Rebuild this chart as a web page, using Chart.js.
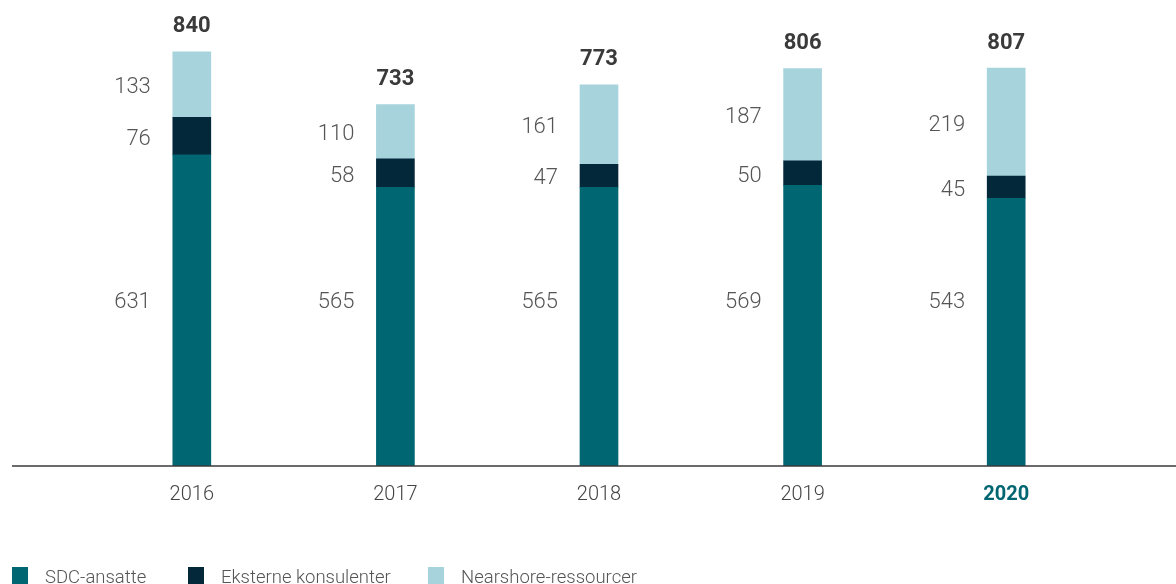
<!DOCTYPE html>
<html>
<head>
<meta charset="utf-8">
<script src="https://cdn.jsdelivr.net/npm/chart.js@4/dist/chart.umd.min.js"></script>
<style>
  html, body { margin: 0; padding: 0; background: #fff; }
  #wrap { position: relative; width: 1176px; height: 584px; }
</style>
</head>
<body>
<div id="wrap"><canvas id="chart"></canvas></div>
<script>
const years = ["2016", "2017", "2018", "2019", "2020"];
const sdcAnsatte = [631, 565, 565, 569, 543];
const eksterne = [76, 58, 47, 50, 45];
const nearshore = [133, 110, 161, 187, 219];
const totals = [840, 733, 773, 806, 807];
const seriesNames = ["SDC-ansatte", "Eksterne konsulenter", "Nearshore-ressourcer"];
const colors = ["#006672", "#022839", "#a7d3dc"];

const textFont = "Roboto, 'Liberation Sans', sans-serif";

const labelsPlugin = {
  id: "labelsPlugin",
  afterDraw(chart) {
    const ctx = chart.ctx;
    const x = chart.scales.x;
    const y = chart.scales.y;
    const base = y.getPixelForValue(0);
    ctx.save();

    // baseline
    ctx.strokeStyle = "#3a3a3a";
    ctx.lineWidth = 1.3;
    ctx.beginPath();
    ctx.moveTo(12, base);
    ctx.lineTo(1176, base);
    ctx.stroke();

    const sets = [sdcAnsatte, eksterne, nearshore];
    years.forEach((yr, i) => {
      const cx = x.getPixelForValue(i);
      const bar = chart.getDatasetMeta(0).data[i];
      const left = cx - bar.width / 2;

      // segment values
      ctx.font = "300 22px " + textFont;
      ctx.fillStyle = "#555";
      ctx.textAlign = "right";
      ctx.textBaseline = "middle";
      let acc = 0;
      sets.forEach((arr, k) => {
        const v = arr[i];
        let py;
        if (k === 0) py = y.getPixelForValue(337);
        else py = y.getPixelForValue(acc + v / 2);
        ctx.fillText(String(v), left - 22, py + 3);
        acc += v;
      });

      // total
      ctx.font = "bold 22px " + textFont;
      ctx.fillStyle = "#3a3a3a";
      ctx.textAlign = "center";
      ctx.fillText(String(totals[i]), cx, y.getPixelForValue(totals[i]) - 25);

      // year label
      if (i === years.length - 1) {
        ctx.font = "bold 20px " + textFont;
        ctx.fillStyle = "#006672";
      } else {
        ctx.font = "300 20px " + textFont;
        ctx.fillStyle = "#444";
      }
      ctx.fillText(yr, cx, base + 29);
    });

    // legend
    const legendX = [12, 188, 428];
    ctx.textAlign = "left";
    ctx.textBaseline = "middle";
    ctx.font = "300 18.5px " + textFont;
    seriesNames.forEach((name, k) => {
      ctx.fillStyle = colors[k];
      ctx.fillRect(legendX[k], 567, 16, 17);
      ctx.fillStyle = "#555";
      ctx.fillText(name, legendX[k] + 33, 578);
    });
    ctx.restore();
  }
};

new Chart(document.getElementById("chart"), {
  type: "bar",
  data: {
    labels: years,
    datasets: [
      { label: seriesNames[0], data: sdcAnsatte, backgroundColor: colors[0] },
      { label: seriesNames[1], data: eksterne, backgroundColor: colors[1] },
      { label: seriesNames[2], data: nearshore, backgroundColor: colors[2] }
    ]
  },
  options: {
    responsive: true,
    maintainAspectRatio: false,
    animation: false,
    layout: { padding: { left: 90, right: 68, top: 0, bottom: 118 } },
    datasets: { bar: { barThickness: 38, borderWidth: 0 } },
    plugins: { legend: { display: false }, tooltip: { enabled: false } },
    scales: {
      x: { stacked: true, display: false },
      y: { stacked: true, display: false, min: 0, max: 945 }
    }
  },
  plugins: [labelsPlugin]
});
</script>
</body>
</html>
